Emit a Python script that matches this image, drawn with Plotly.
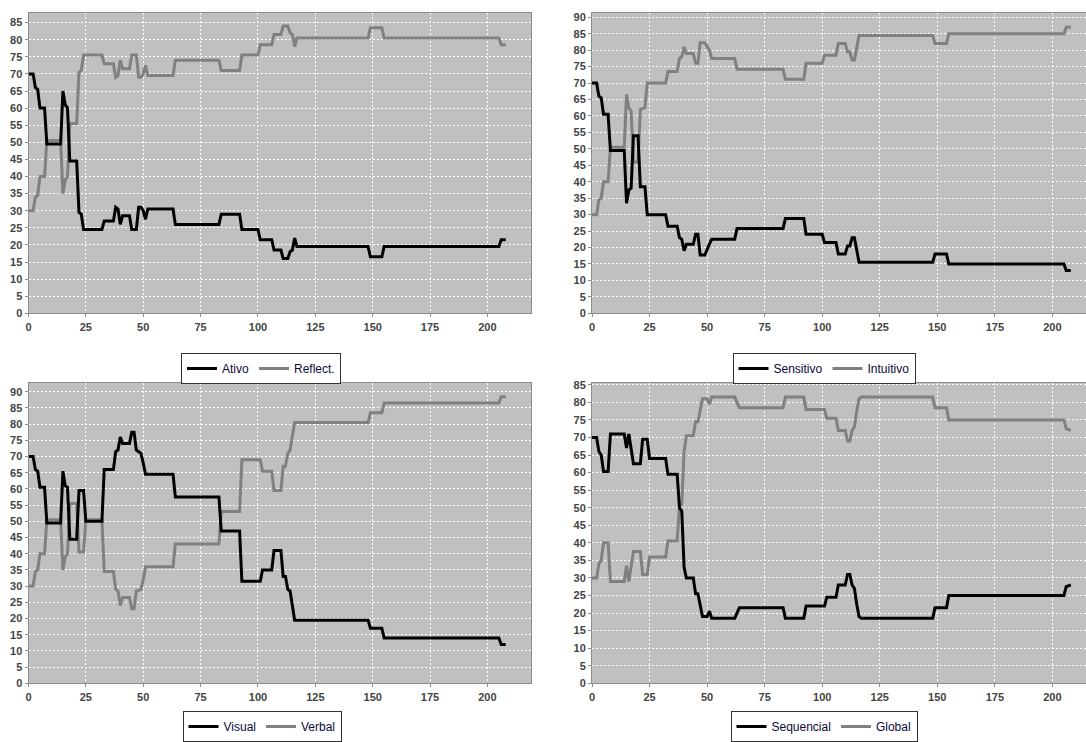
import plotly.graph_objects as go

# ---------------- data (breakpoints) ----------------
x_ativo = [0,2,3,4,5,7,8,14,15,16,17,18,21,22,23,24,32,33,37,38,39,40,41,44,45,47,48,49,50,51,52,63,64,83,84,92,93,100,101,106,107,110,111,113,114,115,116,117,148,149,154,155,205,206,208]
ativo = [70,70,66,65.5,60,60,49.5,49.5,65,61,60,44.5,44.5,29.5,29,24.5,24.5,27,27,31,30.5,26,28.5,28.5,24.5,24.5,31,31,30,27.5,30.5,30.5,26,26,29,29,24.5,24.5,21.5,21.5,18.5,18.5,16,16,18,18.5,22,19.5,19.5,16.5,16.5,19.5,19.5,21.5,21.5]
reflect = [30,30,34,34.5,40,40,50.5,50.5,35,39,40,55.5,55.5,70.5,71,75.5,75.5,73,73,69,69.5,74,71.5,71.5,75.5,75.5,69,69,70,72.5,69.5,69.5,74,74,71,71,75.5,75.5,78.5,78.5,81.5,81.5,84,84,82,81.5,78,80.5,80.5,83.5,83.5,80.5,80.5,78.5,78.5]

x_sens = [0,2,3,4,5,7,8,14,15,16,17,18,20,21,23,24,32,33,37,38,39,40,41,44,45,46,47,49,51,52,62,63,83,84,92,93,100,101,106,107,110,111,112,113,114,115,116,148,149,154,155,205,206,208]
sensitivo = [70,70,66,65.5,60.5,60.5,49.5,49.5,33.5,37.5,38,54,54,38.5,38.5,30,30,26.5,26.5,23,22.5,19,21,21,24,24,17.7,17.7,21,22.5,22.5,25.8,25.8,28.8,28.8,24,24,21.5,21.5,18,18,20.5,20.5,23,23,19,15.5,15.5,18,18,15,15,13,13]
intuitivo = [30,30,34.5,35,40,40,50.5,50.5,66.5,62.5,61.5,46,46,62,62.5,70,70,73.5,73.5,77.5,78,81,79,79,76,76,82.3,82.3,80,77.5,77.5,74.2,74.2,71.2,71.2,76,76,78.5,78.5,82,82,79.5,79.5,77,77,81,84.5,84.5,82,82,85,85,87,87]

x_visual = [0,2,3,4,5,7,8,14,15,16,17,18,21,22,24,25,32,33,37,38,39,40,41,44,45,46,47,49,50,51,63,64,83,84,92,93,101,102,106,107,110,111,112,113,114,115,116,148,149,154,155,205,206,208]
visual = [70,70,66,65.5,60.5,60.5,49.5,49.5,65.5,61,60.5,44.5,44.5,59.5,59.5,50,50,66,66,71.5,72,76,74,74,77.5,77.5,72,71,68,64.5,64.5,57.5,57.5,47,47,31.5,31.5,35,35,41,41,33,33,29,28.5,24,19.5,19.5,17,17,14,14,12,12]
verbal = [30,30,34.5,35,40,40,50.5,50.5,35,39,40,55.5,55.5,40.5,40.5,50.5,50.5,34.5,34.5,29,28.5,24,26.5,26.5,23,23,28.5,29,32,36,36,43,43,53,53,69,69,65.5,65.5,59.5,59.5,67,67,71,72,76,80.5,80.5,83.5,83.5,86.5,86.5,88.5,88.5]

x_seq = [0,2,3,4,5,7,8,14,15,16,18,21,22,24,25,32,33,37,38,39,40,41,44,45,46,47,48,50,51,52,62,64,83,84,92,93,101,102,106,107,110,111,112,113,114,115,116,117,148,149,154,155,205,206,208]
sequencial = [70,70,66,65,60.3,60.3,71,71,67,71,62.5,62.5,69.5,69.5,64,64,59.5,59.5,50,49,33,30,30,25.5,25.5,22,19,19,20.5,18.5,18.5,21.5,21.5,18.5,18.5,22,22,24.5,24.5,28,28,31,31,28,27,22.5,19,18.5,18.5,21.5,21.5,25,25,27.5,28]
global_ = [30,30,34,35,40,40,29,29,33.5,29,37.5,37.5,31,31,36,36,40.5,40.5,50.5,51,66,70.5,70.5,74.5,74.5,78,81,81,79.5,81.5,81.5,78.5,78.5,81.5,81.5,78,78,75.5,75.5,72,72,69,69,72,73,77.5,81,81.5,81.5,78.5,78.5,75,75,72.5,72]

x_ticks = [0, 25, 50, 75, 100, 125, 150, 175, 200]

panels = [
    dict(x=x_ativo, a=ativo, b=reflect, na="Ativo", nb="Reflect."),
    dict(x=x_sens, a=sensitivo, b=intuitivo, na="Sensitivo", nb="Intuitivo"),
    dict(x=x_visual, a=visual, b=verbal, na="Visual", nb="Verbal"),
    dict(x=x_seq, a=sequencial, b=global_, na="Sequencial", nb="Global"),
]

W, H = 1086, 742
# pixel geometry: (left, right, top, bottom), y max, x max
geo = [
    ((28.5, 531, 12.7, 313.3), 87.9, 219.0),
    ((592, 1086, 12.7, 313.3), 91.4, 214.6),
    ((28.5, 531, 382.7, 683.3), 92.8, 219.0),
    ((592, 1086, 382.7, 683.3), 85.6, 214.6),
]
# legend anchor: (centre x px, y px, anchor side)
legend_pos = [(261, 353, "top"), (824, 353, "top"), (262, 742, "bottom"), (824, 742, "bottom")]

BLACK = "#000000"
GRAY = "#808080"

fig = go.Figure()
layout = {}
for i, (p, g, lp) in enumerate(zip(panels, geo, legend_pos)):
    n = i + 1
    xa = "x" if n == 1 else f"x{n}"
    ya = "y" if n == 1 else f"y{n}"
    lg = "legend" if n == 1 else f"legend{n}"
    fig.add_trace(go.Scatter(x=p["x"], y=p["b"], name=p["nb"], mode="lines",
                             line=dict(color=GRAY, width=3), xaxis=xa, yaxis=ya,
                             legend=lg, legendrank=2))
    fig.add_trace(go.Scatter(x=p["x"], y=p["a"], name=p["na"], mode="lines",
                             line=dict(color=BLACK, width=3), xaxis=xa, yaxis=ya,
                             legend=lg, legendrank=1))
    (l, r, t, b), ymax, xmax = g
    axis_common = dict(
        showgrid=True, gridcolor="white", griddash="2px,2px", gridwidth=1,
        zeroline=False, showline=True, linecolor="#8c8c8c", linewidth=1, mirror=True,
        ticks="outside", ticklen=3, tickcolor="#8c8c8c",
        tickfont=dict(family="Liberation Sans, Arial", size=11, color="#444444", weight="bold"),
    )
    layout["xaxis" if n == 1 else f"xaxis{n}"] = dict(
        axis_common, domain=[l / W, min(r / W, 1.0)], range=[0, xmax],
        tickvals=x_ticks, anchor=ya)
    layout["yaxis" if n == 1 else f"yaxis{n}"] = dict(
        axis_common, domain=[(H - b) / H, (H - t) / H], range=[0, ymax],
        dtick=5, tick0=0, anchor=xa)
    layout[lg] = dict(
        orientation="h", x=lp[0] / W, y=(H - lp[1]) / H, xanchor="center", yanchor=lp[2],
        bgcolor="white", bordercolor="#333333", borderwidth=1,
        font=dict(family="Liberation Sans, Arial", size=12, color="#0a0a3a"),
        itemwidth=30, tracegroupgap=0,
    )

fig.update_layout(
    width=W, height=H, margin=dict(l=0, r=0, t=0, b=0, autoexpand=False),
    paper_bgcolor="white", plot_bgcolor="#c0c0c0", showlegend=True,
    **layout,
)

fig.write_html(
    "out.html",
    config={"displayModeBar": False},
    post_script="document.body.style.margin='0';document.body.style.overflow='hidden';",
)
